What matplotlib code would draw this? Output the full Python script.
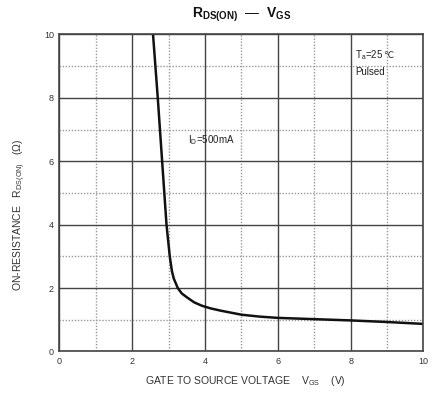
import matplotlib
matplotlib.use("Agg")
from matplotlib import pyplot as plt
from matplotlib.ticker import MultipleLocator

plt.rcParams['font.family'] = ['Liberation Sans', 'DejaVu Sans']
plt.rcParams['mathtext.fontset'] = 'custom'
plt.rcParams['mathtext.rm'] = 'Liberation Sans'
plt.rcParams['mathtext.it'] = 'Liberation Sans'
plt.rcParams['mathtext.bf'] = 'Liberation Sans:bold'

# R_DS(ON) vs V_GS
vgs = [2.57, 2.70, 2.82, 2.94, 3.03, 3.09, 3.14, 3.25, 3.36, 3.51, 3.70, 3.92, 4.15,
       4.42, 5.0, 5.5, 6.0, 7.0, 8.0, 9.0, 10.0]
rds = [10.0, 8.0, 6.0, 4.0, 3.0, 2.53, 2.30, 2.0, 1.83, 1.70, 1.55, 1.44, 1.36,
       1.29, 1.16, 1.10, 1.06, 1.02, 0.98, 0.93, 0.87]
x_ticks = [0, 2, 4, 6, 8, 10]
y_ticks = [0, 2, 4, 6, 8, 10]

fig = plt.figure(figsize=(4.32, 3.94), dpi=100)
ax = fig.add_axes([0.1377, 0.1079, 0.8426, 0.8046])

ax.set_xlim(0, 10)
ax.set_ylim(0, 10)
ax.set_xticks(x_ticks)
ax.set_yticks(y_ticks)
ax.xaxis.set_minor_locator(MultipleLocator(1))
ax.yaxis.set_minor_locator(MultipleLocator(1))
ax.grid(which='major', color='#444444', lw=1.0)
ax.grid(which='minor', color='#999999', lw=1.0, ls=(0, (1, 1.2)))
ax.set_axisbelow(True)
for s in ax.spines.values():
    s.set_color('#444444')
    s.set_linewidth(1.2)
ax.tick_params(which='both', length=0, labelsize=6.5, labelcolor='#333333', pad=4)

ax.plot(vgs, rds, color='#111111', lw=1.8, solid_capstyle='round')

ax.text(3.54, 6.67, r'I$_\mathregular{D}$=500mA', fontsize=7, color='#222222', va='center')
t = ax.text(8.12, 9.35, r'T$_\mathregular{a}$=25', fontsize=7, color='#222222', va='center')
ax.annotate('\u2103', xy=(1, 0.5), xycoords=t, va='center', ha='left',
            fontsize=6.5, color='#222222', family='DejaVu Sans')
ax.text(8.12, 8.82, 'Pulsed', fontsize=7, color='#222222', va='center')

fig.text(0.559, 1 - 15 / 394, r'$\mathbf{R_{DS(ON)}}$  —  $\mathbf{V_{GS}}$',
         ha='center', va='center', fontsize=10, color='#111111')
fig.text(0.567, 1 - 381 / 394, r'GATE TO SOURCE VOLTAGE    V$_\mathregular{GS}$    (V)',
         ha='center', va='center', fontsize=7.5, color='#333333')
fig.text(20 / 432, 1 - 215 / 394, r'ON-RESISTANCE   R$_\mathregular{DS(ON)}$   (Ω)',
         ha='center', va='center', rotation=90, fontsize=7.5, color='#333333')

fig.savefig('out.png', dpi=100, facecolor='white')
